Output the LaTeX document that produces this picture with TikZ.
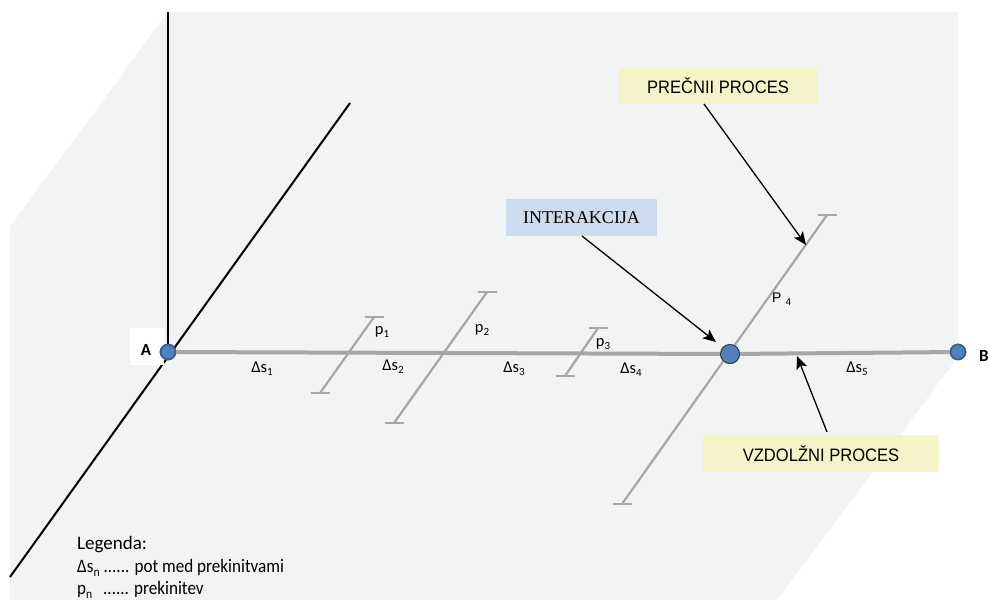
\documentclass[tikz,border=0pt]{standalone}
\usepackage{fontspec}
\setmainfont{Carlito}
\newfontfamily\arialn[FakeStretch=0.92]{Liberation Sans}
\newfontfamily\arial{Liberation Sans}
\newfontfamily\timesf{Liberation Serif}
\usetikzlibrary{arrows.meta}
\definecolor{bgc}{HTML}{F2F3F3}
\definecolor{linegray}{HTML}{A6A6A6}
\definecolor{dotblue}{HTML}{4F81BD}
\definecolor{dotedge}{HTML}{385D8A}
\definecolor{ybox}{HTML}{F4F4C8}
\definecolor{bbox}{HTML}{CCDCEE}
\newcommand{\sbs}[1]{\raisebox{-3.5pt}{\fontsize{11}{11}\selectfont #1}}
\newcommand{\sbl}[1]{\raisebox{-4pt}{\fontsize{13}{13}\selectfont #1}}
\tikzset{
  axisline/.style={line width=2pt, black},
  mainline/.style={line width=4pt, linegray},
  pline/.style={line width=2.2pt, linegray},
  tick/.style={line width=2.5pt, linegray},
  smalldot/.style={circle, fill=dotblue, draw=dotedge, line width=1.6pt, minimum size=15pt, inner sep=0pt},
  bigdot/.style={circle, fill=dotblue, draw=black!80, line width=0.8pt, minimum size=19pt, inner sep=0pt},
  lbl/.style={font=\fontsize{16.5}{16.5}\selectfont, inner sep=0pt, anchor=base},
  ylabel/.style={fill=ybox, font=\arialn\fontsize{18}{18}\selectfont, inner sep=0pt},
  blabel/.style={fill=bbox, font=\timesf\fontsize{18}{18}\selectfont, inner sep=0pt},
  callout/.style={line width=1.3pt, black, -{Stealth[length=13pt,width=11pt,inset=3pt]}},
  legend/.style={font=\fontsize{19}{19}\selectfont, inner sep=0pt, anchor=base west}
}
\begin{document}
\begin{tikzpicture}[x=1pt,y=-1pt]
\useasboundingbox (0,0) rectangle (990,600);
% background plane
\fill[bgc] (168,12) -- (958,12) -- (958,357) -- (777,600) -- (10,600) -- (10,227) -- cycle;
% axes
\coordinate (ztop) at (168,12);
\coordinate (ytop) at (350,103);
\coordinate (ybot) at (10,577);
\draw[axisline] (ztop) -- (168,352);
\draw[axisline] (ytop) -- (ybot);
% white box behind A label
\fill[white] (130,328) rectangle (164,365);
% p segments
\coordinate (p1t) at (374,317); \coordinate (p1b) at (320,393);
\coordinate (p2t) at (487,292); \coordinate (p2b) at (394,423);
\coordinate (p3t) at (598,328); \coordinate (p3b) at (565,376);
\coordinate (p4t) at (827,215); \coordinate (p4b) at (622,504);
% main line
\node[smalldot] (A) at (168,352) {};
\node[smalldot] (B) at (958,352) {};
\node[bigdot] (X) at (730,354) {};
\draw[mainline] (A) -- (X) -- (B);
\foreach \t/\b in {p1t/p1b,p2t/p2b,p3t/p3b,p4t/p4b}{
  \draw[pline] (\t) -- (\b);
  \draw[tick] (\t) ++(-9.5,0) -- ++(19,0);
  \draw[tick] (\b) ++(-9.5,0) -- ++(19,0);
}
\node[smalldot] at (A) {};
\node[smalldot] at (B) {};
\node[bigdot] at (X) {};
% point labels
\node[font=\bfseries\fontsize{17}{17}\selectfont, inner sep=0pt] (Alab) at (146,350) {A};
\node[font=\bfseries\fontsize{17}{17}\selectfont, inner sep=0pt] (Blab) at (984,356) {B};
% segment labels
\node[lbl] (s1) at (262,372) {Δs\sbs{1}};
\node[lbl] (s2) at (393,370) {Δs\sbs{2}};
\node[lbl] (s3) at (514,372) {Δs\sbs{3}};
\node[lbl] (s4) at (631,373) {Δs\sbs{4}};
\node[lbl] (s5) at (857,372) {Δs\sbs{5}};
\node[lbl] (l1) at (382,334) {p\sbs{1}};
\node[lbl] (l2) at (482,332) {p\sbs{2}};
\node[lbl] (l3) at (603,346) {p\sbs{3}};
\node[inner sep=0pt, anchor=base west, font=\arial\fontsize{14}{14}\selectfont] (l4) at (772,302) {P\hspace{4pt}\raisebox{-3pt}{\fontsize{10}{10}\selectfont 4}};
% callout boxes
\node[ylabel, minimum width=198pt, minimum height=36pt] (prec) at (718,86) {PREČNII PROCES};
\node[ylabel, minimum width=236pt, minimum height=37pt] (vzd) at (821,453.5) {VZDOLŽNI PROCES};
\node[blabel, minimum width=151pt, minimum height=37pt] (inter) at (581.5,217.5) {INTERAKCIJA};
% callout arrows
\coordinate (precTip) at (806,245);
\coordinate (interTip) at (716,342);
\coordinate (vzdTip) at (797,356);
\draw[callout] (704,104) -- (precTip);
\draw[callout] (582,236) -- (interTip);
\draw[callout] (827,432) -- (vzdTip);
% legend
\node[legend] (lg1) at (77,549) {Legenda:};
\node[legend] (lg2) at (77,572) {\scalebox{0.9}[1]{Δs\sbl{n} ...... pot med prekinitvami}};
\node[legend] (lg3) at (77,594) {\scalebox{0.9}[1]{p\sbl{n}\hspace{12pt}...... prekinitev}};
\end{tikzpicture}
\end{document}
